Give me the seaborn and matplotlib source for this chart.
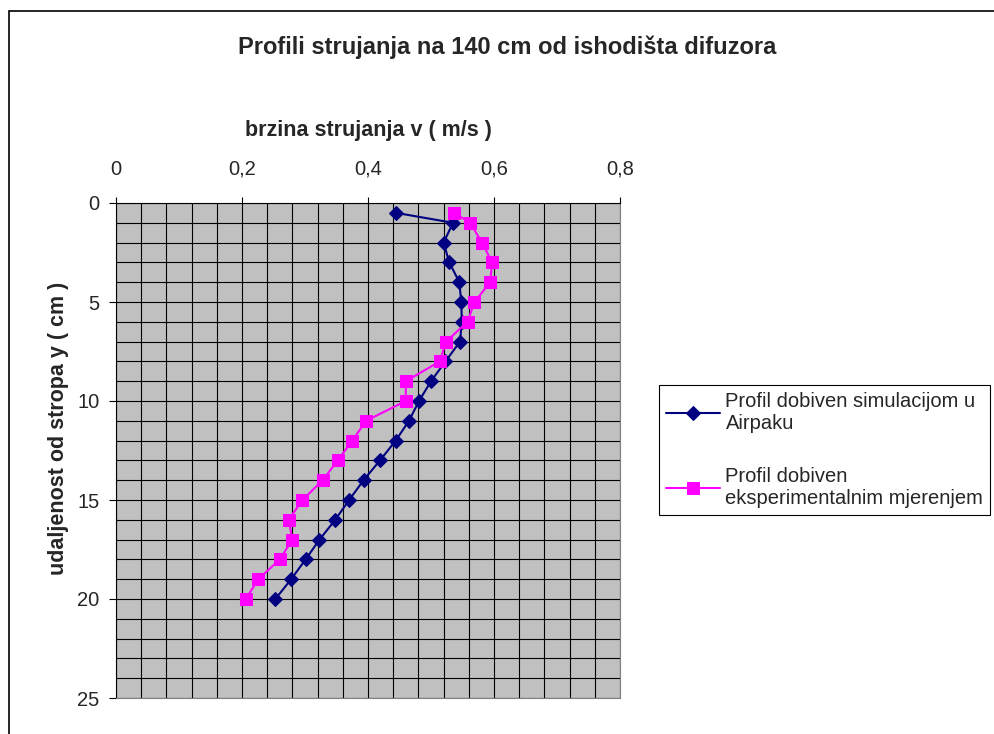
import numpy as np
import pandas as pd
import seaborn as sns
import matplotlib.pyplot as plt
from matplotlib.patches import Rectangle
from matplotlib.ticker import MultipleLocator, FuncFormatter

# udaljenost od stropa (cm)
y_cm = [0.5, 1, 2, 3, 4, 5, 6, 7, 8, 9, 10, 11, 12, 13, 14, 15, 16, 17, 18, 19, 20]
# brzina - simulacija Airpak
v_sim = [0.445, 0.535, 0.520, 0.529, 0.545, 0.548, 0.549, 0.546, 0.523, 0.500, 0.481,
         0.465, 0.444, 0.419, 0.393, 0.370, 0.348, 0.323, 0.301, 0.278, 0.253]
# brzina - eksperiment
v_exp = [0.537, 0.562, 0.581, 0.597, 0.594, 0.569, 0.558, 0.524, 0.514, 0.460, 0.460,
         0.397, 0.375, 0.352, 0.328, 0.296, 0.274, 0.280, 0.260, 0.226, 0.206]

lab_sim = 'Profil dobiven simulacijom u\nAirpaku'
lab_exp = 'Profil dobiven\neksperimentalnim mjerenjem'

sim = pd.DataFrame({'v': v_sim, 'y': y_cm})
exp = pd.DataFrame({'v': v_exp, 'y': y_cm})

sns.set_style('white')
plt.rcParams['font.family'] = ['Liberation Sans', 'DejaVu Sans']

fig = plt.figure(figsize=(9.95, 7.34), dpi=100)
ax = fig.add_axes([116/995, 36/734, 504/995, 495/734])
ax.set_facecolor('#C0C0C0')

sns.lineplot(data=sim, x='v', y='y', sort=False, estimator=None, color='#000080',
             marker='D', markersize=7, markeredgecolor='#000080', linewidth=1.5,
             label=lab_sim, ax=ax)
sns.lineplot(data=exp, x='v', y='y', sort=False, estimator=None, color='#FF00FF',
             marker='s', markersize=8, markeredgecolor='#FF00FF', linewidth=1.5,
             label=lab_exp, ax=ax)

ax.set_xlim(0, 0.8)
ax.set_ylim(25, 0)
ax.xaxis.set_major_locator(MultipleLocator(0.2))
ax.xaxis.set_minor_locator(MultipleLocator(0.04))
ax.yaxis.set_major_locator(MultipleLocator(5))
ax.yaxis.set_minor_locator(MultipleLocator(1))
ax.xaxis.set_major_formatter(FuncFormatter(lambda v, p: ('%g' % round(v, 2)).replace('.', ',')))
ax.grid(which='both', color='black', linewidth=0.8)
ax.set_axisbelow(True)

ax.xaxis.tick_top()
ax.xaxis.set_label_position('top')
ax.tick_params(axis='x', which='major', top=True, bottom=False, length=4.5, width=0.8,
               color='black', labelsize=14.5, pad=13)
ax.tick_params(axis='y', which='major', left=True, length=5, width=0.8,
               color='black', labelsize=14.5, pad=7)
ax.tick_params(which='minor', length=0)

for s in ax.spines.values():
    s.set_color('black')
    s.set_linewidth(0.8)
ax.spines['right'].set_color('#808080')
ax.spines['bottom'].set_color('#808080')

ax.set_xlabel('brzina strujanja v ( m/s )', fontsize=15.5, fontweight='bold', labelpad=17)
ax.set_ylabel('udaljenost od stropa y ( cm )', fontsize=15.5, fontweight='bold')
ax.yaxis.set_label_coords(-0.093, 0.545)

fig.text(507/995, 1 - 47/734, 'Profili strujanja na 140 cm od ishodišta difuzora',
         ha='center', va='center', fontsize=17, fontweight='bold')

leg = ax.legend(loc='upper left', bbox_to_anchor=(659/995, 1 - 385/734),
                bbox_transform=fig.transFigure, frameon=True, fancybox=False,
                fontsize=14.5, handlelength=2.7, borderaxespad=0, labelspacing=1.7,
                borderpad=0.35, handletextpad=0.25)
leg.get_frame().set_edgecolor('black')
leg.get_frame().set_linewidth(0.8)
leg.get_frame().set_alpha(1)

# outer chart border
fig.patches.append(Rectangle((9/995, -0.1), 1.2, 1 - 11/734 + 0.1, transform=fig.transFigure,
                             fill=False, edgecolor='black', linewidth=1.2, clip_on=False))

fig.savefig('out.png', dpi=100)
